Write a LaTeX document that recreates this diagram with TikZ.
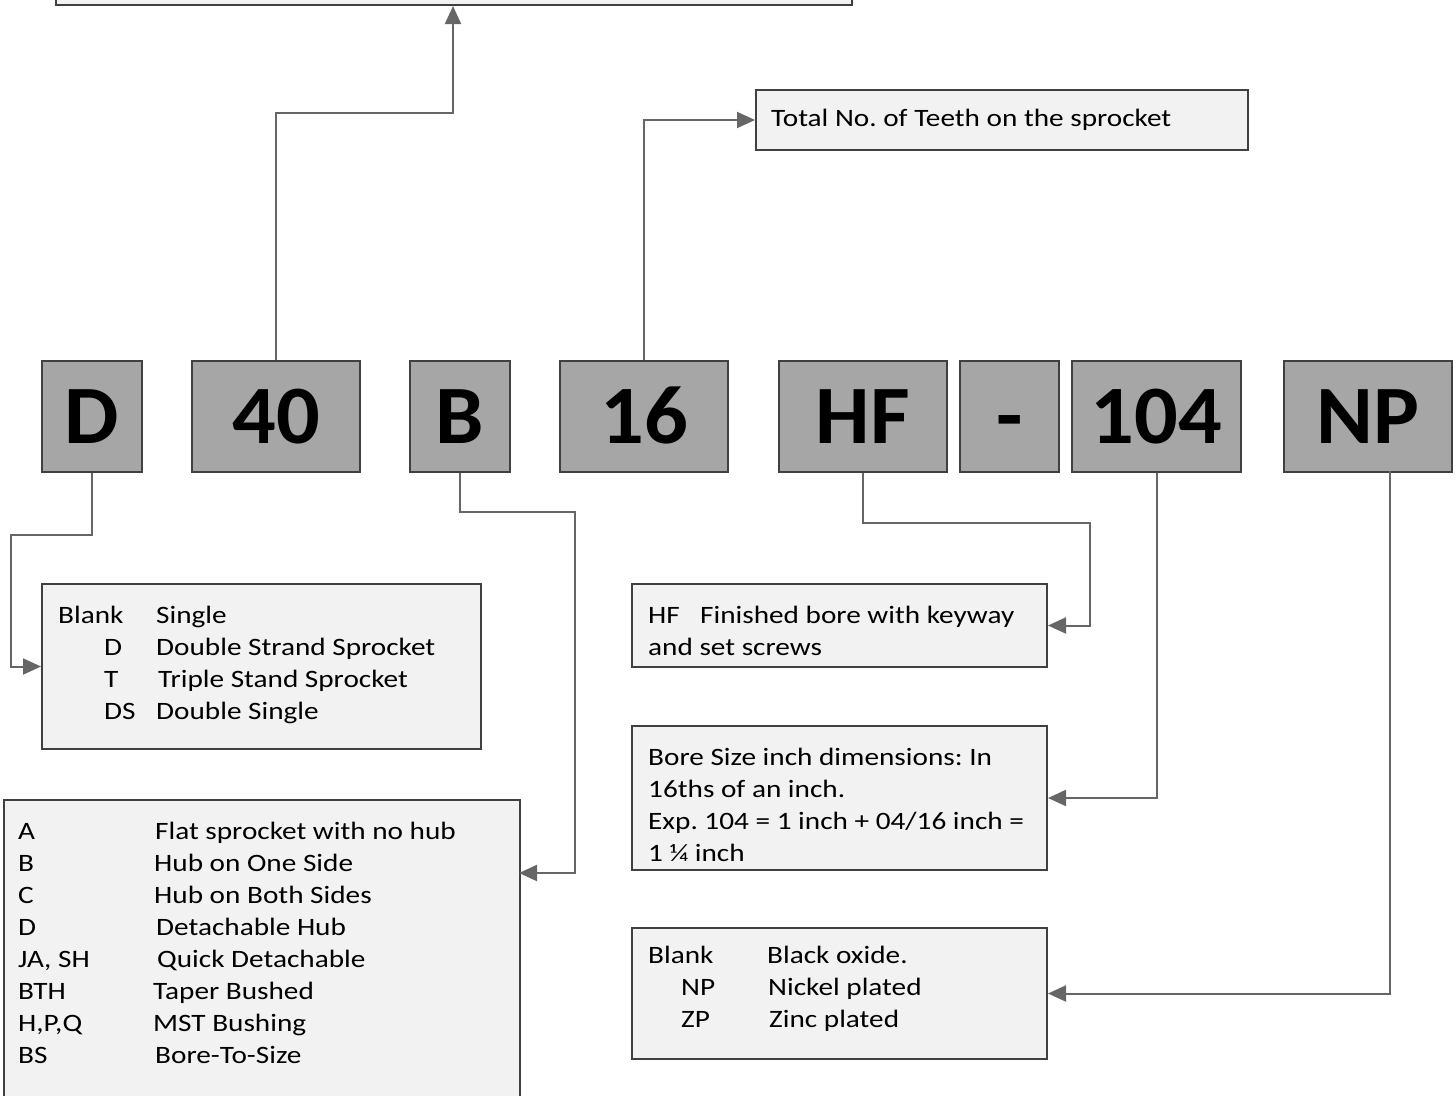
\documentclass[tikz,border=0pt]{standalone}
\usepackage{fontspec}
\setmainfont{Carlito}[FakeStretch=1.17]
\newfontfamily\codefont{Carlito}[FakeStretch=1.04]
\usetikzlibrary{arrows.meta}
\definecolor{codefill}{HTML}{A6A6A6}
\definecolor{boxfill}{HTML}{F2F2F2}
\definecolor{edgec}{HTML}{404040}
\definecolor{wirec}{HTML}{666666}
\frenchspacing
\begin{document}
\begin{tikzpicture}[x=1pt,y=-1pt,
  code/.style={draw=edgec, line width=2pt, fill=codefill, anchor=north west, inner sep=0,
    minimum height=111pt, text height=53pt, text depth=0pt,
    font=\codefont\fontsize{83}{83}\selectfont\bfseries},
  info/.style={draw=edgec, line width=2pt, fill=boxfill, anchor=north west, inner sep=0},
  txt/.style={anchor=base west, inner sep=0, font=\fontsize{25}{30}\selectfont},
  wire/.style={draw=wirec, line width=2pt},
  arr/.style={wire, -{Triangle[length=18pt,width=16pt]}},
]
\useasboundingbox (0,0) rectangle (1456,1095);

% top (cut-off) box and teeth box
\node[info, minimum width=796pt, minimum height=40pt] (top) at (55,-36) {};
\node[info, minimum width=492pt, minimum height=60pt] (teeth) at (755,89) {};
\node[txt] (tteeth) at (771,126) {Total No. of Teeth on the sprocket};

% code boxes
\node[code, minimum width=100pt] (cD) at (41,360) {D};
\node[code, minimum width=168pt] (c40) at (191,360) {40};
\node[code, minimum width=100pt] (cB) at (409,360) {B};
\node[code, minimum width=168pt] (c16) at (559,360) {16};
\node[code, minimum width=168pt] (cHF) at (778,360) {HF};
\node[code, minimum width=99pt] (cdash) at (959,360) {-};
\node[code, minimum width=169pt] (c104) at (1071,360) {104};
\node[code, minimum width=168pt] (cNP) at (1283,360) {NP};

% info boxes
\node[info, minimum width=439pt, minimum height=165pt] (box1) at (41,583) {};
\node[info, minimum width=516pt, minimum height=330pt] (box2) at (3,799) {};
\node[info, minimum width=415pt, minimum height=83pt] (hfbox) at (631,583) {};
\node[info, minimum width=415pt, minimum height=144pt] (borebox) at (631,725) {};
\node[info, minimum width=415pt, minimum height=131pt] (finbox) at (631,927) {};

% box1 text
\node[txt] (a1) at (58,623) {Blank};
\node[txt] (a2) at (156,623) {Single};
\node[txt] (a3) at (104,655) {D};
\node[txt] (a4) at (156,655) {Double Strand Sprocket};
\node[txt] (a5) at (104,687) {T};
\node[txt] (a6) at (158,687) {Triple Stand Sprocket};
\node[txt] (a7) at (104,719) {DS};
\node[txt] (a8) at (156,719) {Double Single};

% box2 text
\node[txt] (b1l) at (18,839) {A};
\node[txt] (b1r) at (155,839) {Flat sprocket with no hub};
\node[txt] (b2l) at (18,871) {B};
\node[txt] (b2r) at (154,871) {Hub on One Side};
\node[txt] (b3l) at (18,903) {C};
\node[txt] (b3r) at (154,903) {Hub on Both Sides};
\node[txt] (b4l) at (18,935) {D};
\node[txt] (b4r) at (156,935) {Detachable Hub};
\node[txt] (b5l) at (18,967) {JA, SH};
\node[txt] (b5r) at (157,967) {Quick Detachable};
\node[txt] (b6l) at (18,999) {BTH};
\node[txt] (b6r) at (153,999) {Taper Bushed};
\node[txt] (b7l) at (18,1031) {H,P,Q};
\node[txt] (b7r) at (153,1031) {MST Bushing};
\node[txt] (b8l) at (18,1063) {BS};
\node[txt] (b8r) at (155,1063) {Bore-To-Size};

% HF box text
\node[txt] (h1) at (648,623) {HF};
\node[txt] (h2) at (700,623) {Finished bore with keyway};
\node[txt] (h3) at (648,655) {and set screws};

% bore box text
\node[txt] (r1) at (648,765) {Bore Size inch dimensions: In};
\node[txt] (r2) at (648,797) {16ths of an inch.};
\node[txt] (r3) at (648,829) {Exp. 104 = 1 inch + 04/16 inch =};
\node[txt] (r4) at (648,861) {1 ¼ inch};

% finish box text
\node[txt] (f1) at (648,963) {Blank};
\node[txt] (f2) at (767,963) {Black oxide.};
\node[txt] (f3) at (681,995) {NP};
\node[txt] (f4) at (768,995) {Nickel plated};
\node[txt] (f5) at (681,1027) {ZP};
\node[txt] (f6) at (769,1027) {Zinc plated};

% connectors
\coordinate (k40) at (453,113);
\draw[arr] (c40.north) |- (k40) -- (k40 |- top.south);
\draw[arr] (c16.north) |- (teeth.west);
\coordinate (kD) at (11,535);
\draw[arr] (cD.south) |- (kD) |- (box1.west);
\coordinate (kB) at (575,512);
\coordinate (kB2) at (519,873);
\draw[arr] (cB.south) |- (kB) |- (kB2);
\coordinate (kHF) at (1090,523);
\draw[arr] (cHF.south) |- (kHF) |- (hfbox.east);
\draw[arr] (c104.south) |- (borebox.east);
\coordinate (kNP) at (1390,471);
\draw[arr] (kNP) |- (finbox.east);
\end{tikzpicture}
\end{document}
